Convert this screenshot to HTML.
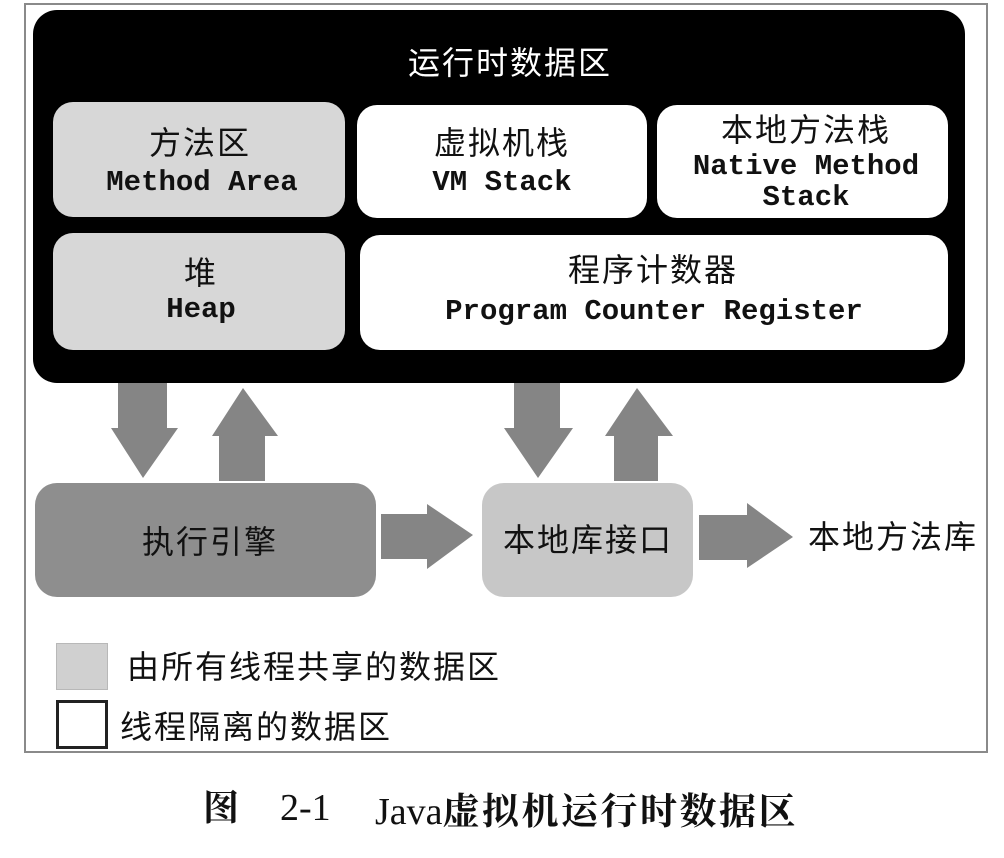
<!DOCTYPE html>
<html><head><meta charset="utf-8"><style>
html,body{margin:0;padding:0;background:#fff;}
body{width:1004px;height:858px;position:relative;overflow:hidden;}
.a{position:absolute;}
.cjk{font-family:"Liberation Sans","Noto Sans CJK SC",sans-serif;font-size:32px;letter-spacing:2px;white-space:nowrap;color:#111;}
.mono{font-family:"Liberation Mono",monospace;font-weight:bold;font-size:29px;white-space:nowrap;color:#111;}
.box{position:absolute;border-radius:20px;}
.c{text-align:center;}
</style></head><body>
<!-- outer frame -->
<div class="a" style="left:24px;top:3px;width:960px;height:746px;border:2px solid #8a8a8a;"></div>
<!-- black runtime area -->
<div class="box" style="left:33px;top:10px;width:932px;height:373px;background:#000;border-radius:24px;"></div>
<div class="a cjk c" style="left:360px;top:43px;width:300px;line-height:40px;color:#fff;">运行时数据区</div>

<!-- method area -->
<div class="box" style="left:53px;top:102px;width:292px;height:115px;background:#d7d7d7;"></div>
<div class="a cjk c" style="left:50px;top:123px;width:300px;line-height:40px;">方法区</div>
<div class="a mono c" style="left:50px;top:166px;width:304px;line-height:34px;">Method Area</div>

<!-- VM stack -->
<div class="box" style="left:357px;top:105px;width:290px;height:113px;background:#fff;"></div>
<div class="a cjk c" style="left:352px;top:123px;width:300px;line-height:40px;">虚拟机栈</div>
<div class="a mono c" style="left:352px;top:166px;width:300px;line-height:34px;">VM Stack</div>

<!-- native method stack -->
<div class="box" style="left:657px;top:105px;width:291px;height:113px;background:#fff;"></div>
<div class="a cjk c" style="left:656px;top:110px;width:300px;line-height:40px;">本地方法栈</div>
<div class="a mono c" style="left:656px;top:150px;width:300px;line-height:34px;">Native Method</div>
<div class="a mono c" style="left:656px;top:181px;width:300px;line-height:34px;">Stack</div>

<!-- heap -->
<div class="box" style="left:53px;top:233px;width:292px;height:117px;background:#d7d7d7;"></div>
<div class="a cjk c" style="left:50px;top:253px;width:302px;line-height:40px;">堆</div>
<div class="a mono c" style="left:50px;top:293px;width:302px;line-height:34px;">Heap</div>

<!-- program counter -->
<div class="box" style="left:360px;top:235px;width:588px;height:115px;background:#fff;"></div>
<div class="a cjk c" style="left:503px;top:250px;width:300px;line-height:40px;">程序计数器</div>
<div class="a mono c" style="left:404px;top:295px;width:500px;line-height:34px;">Program Counter Register</div>

<!-- arrows -->
<svg class="a" style="left:0;top:0;" width="1004" height="858">
<g fill="#858585">
<polygon points="118,383 167,383 167,428 178,428 143,478 111,428 118,428"/>
<polygon points="243,388 278,436 265,436 265,481 219,481 219,436 212,436"/>
<polygon points="514,383 560,383 560,428 573,428 538,478 504,428 514,428"/>
<polygon points="637,388 673,436 658,436 658,481 614,481 614,436 605,436"/>
<polygon points="381,514 427,514 427,504 473,535 427,569 427,559 381,559"/>
<polygon points="699,515 747,515 747,503 793,537 747,568 747,560 699,560"/>
</g>
</svg>

<!-- execution engine -->
<div class="box" style="left:35px;top:483px;width:341px;height:114px;background:#8e8e8e;border-radius:22px;"></div>
<div class="a cjk c" style="left:60px;top:522px;width:300px;line-height:40px;">执行引擎</div>

<!-- native library interface -->
<div class="box" style="left:482px;top:483px;width:211px;height:114px;background:#c7c7c7;border-radius:22px;"></div>
<div class="a cjk c" style="left:438px;top:520px;width:300px;line-height:40px;">本地库接口</div>

<div class="a cjk" style="left:808px;top:517px;line-height:40px;">本地方法库</div>

<!-- legend -->
<div class="a" style="left:56px;top:643px;width:50px;height:45px;background:#d0d0d0;border:1px solid #b8b8b8;"></div>
<div class="a cjk" style="left:127px;top:647px;line-height:40px;">由所有线程共享的数据区</div>
<div class="a" style="left:56px;top:700px;width:46px;height:43px;background:#fff;border:3px solid #222;"></div>
<div class="a cjk" style="left:120px;top:707px;line-height:40px;">线程隔离的数据区</div>

<!-- caption -->
<div class="a" style="left:203px;top:786px;font-family:'Liberation Serif','Noto Serif CJK SC',serif;font-weight:bold;font-size:36px;line-height:44px;color:#111;">图</div>
<div class="a" style="left:280px;top:786px;font-family:'Liberation Serif',serif;font-size:38px;line-height:44px;color:#111;">2-1</div>
<div class="a" style="left:375px;top:786px;font-family:'Liberation Serif','Noto Serif CJK SC',serif;font-size:38px;line-height:44px;color:#111;white-space:nowrap;">Java<span style="font-family:'Noto Serif CJK SC',serif;font-weight:bold;font-size:37px;letter-spacing:2.5px;">虚拟机运行时数据区</span></div>
</body></html>
